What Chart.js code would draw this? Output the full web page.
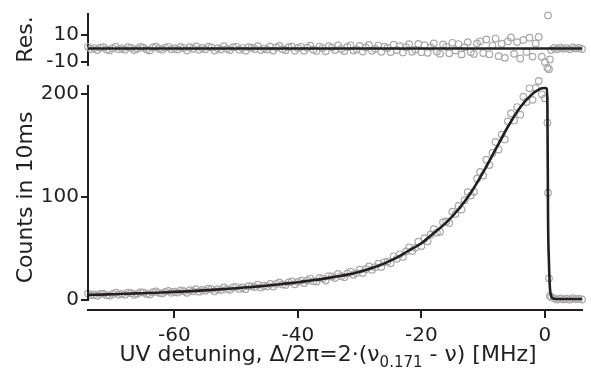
<!DOCTYPE html>
<html>
<head>
<meta charset="utf-8">
<script src="https://cdn.jsdelivr.net/npm/chart.js@4.4.1/dist/chart.umd.min.js"></script>
<style>
  body { margin: 0; background: #fff; width: 591px; height: 379px; position: relative; overflow: hidden; }
  #resBox { position: absolute; left: 0; top: 0; width: 591px; height: 80px; }
  #cntBox { position: absolute; left: 0; top: 70px; width: 591px; height: 309px; }
</style>
</head>
<body>
<div id="resBox"><canvas id="resChart"></canvas></div>
<div id="cntBox"><canvas id="cntChart"></canvas></div>
<script>
// measured points (MHz)
const detuning = [
  -74, -73.5, -73, -72.5, -72, -71.5, -71, -70.5, -70, -69.5, -69, -68.5, -68, -67.5, -67,
  -66.5, -66, -65.5, -65, -64.5, -64, -63.5, -63, -62.5, -62, -61.5, -61, -60.5, -60,
  -59.5, -59, -58.5, -58, -57.5, -57, -56.5, -56, -55.5, -55, -54.5, -54, -53.5, -53, -52.5,
  -52, -51.5, -51, -50.5, -50, -49.5, -49, -48.5, -48, -47.5, -47, -46.5, -46, -45.5, -45,
  -44.5, -44, -43.5, -43, -42.5, -42, -41.5, -41, -40.5, -40,
  -39.5, -39, -38.5, -38, -37.5, -37, -36.5, -36, -35.5, -35, -34.5, -34, -33.5, -33, -32.5,
  -32, -31.5, -31, -30.5, -30, -29.5, -29, -28.5, -28, -27.5, -27, -26.5, -26, -25.5, -25,
  -24.5, -24, -23.5, -23, -22.5, -22, -21.5, -21, -20.5, -20,
  -19.5, -19, -18.5, -18, -17.5, -17, -16.5, -16, -15.5, -15, -14.5, -14, -13.5, -13, -12.5,
  -12, -11.5, -11, -10.5, -10,
  -9.5, -9, -8.5, -8, -7.5, -7, -6.5, -6, -5.5, -5, -4.5, -4, -3.5, -3, -2.5, -2, -1.5, -1,
  -0.5, 0, 0.4, 0.5, 0.65, 0.8,
  1, 1.5, 2, 2.5, 3, 3.5, 4, 4.5, 5, 5.5, 6
];
const counts = [
  6.2, 4.7, 5.4, 4.1, 5.8, 6.2, 4.7, 4.2, 5.8, 7.1, 5.3, 6.0, 5.1, 7.1, 6.6,
  5.1, 6.1, 7.6, 7.2, 5.9, 5.4, 7.6, 8.3, 7.0, 6.4, 7.9, 8.8, 7.1, 8.1,
  7.2, 9.2, 8.6, 7.0, 9.5, 8.5, 10.4, 8.1, 9.7, 8.9, 10.9, 10.6, 8.5, 10.4, 9.7,
  12.2, 10.5, 9.9, 12.1, 12.8, 10.7, 12.2, 10.5, 13.4, 13.2, 12.5, 14.8, 12.2, 13.8, 13.2,
  15.6, 13.1, 15.6, 17.0, 15.1, 14.6, 17.1, 18.0, 15.2, 17.6,
  18.8, 16.4, 18.9, 20.8, 18.3, 17.8, 21.5, 20.8, 18.9, 23.2, 22.8, 21.3, 25.2, 23.1, 22.1,
  25.7, 27.6, 24.6, 26.1, 29.4, 26.2, 29.9, 32.6, 29.4, 31.8, 35.3, 31.9, 36.8, 37.2, 35.6,
  42.4, 39.9, 44.3, 41.6, 47.1, 51.1, 47.4, 50.6, 56.5, 52.3,
  59.9, 56.9, 63.5, 68.6, 65.3, 66.2, 75.4, 76.2, 74.7, 85.6, 83.3, 91.2, 87.7, 96.8, 104.6,
  101.3, 105.0, 117.7, 124.2, 120.7,
  136.0, 130.8, 142.6, 153.2, 145.9, 160.4, 155.7, 173.1, 181.0, 174.1, 187.1, 179.7, 197.2,
  192.0, 205.3, 194.1, 205.6, 212.4,
  199.5, 195.5, 172, 104, 21, 4,
  2.8, 1.6, 0.4, 1.5, 0.6, 1.2, 0.3, 1.7, 0.8, 1.3, 0.5
];
const residuals = [
  1.2, -0.4, 0.3, -1.1, 0.6, 0.9, -0.7, -1.3, 0.2, 1.4, -0.5, 0.1, -0.9, 1.0, 0.4,
  -1.2, -0.3, 1.1, 0.6, -0.8, -1.4, 0.7, 1.3, -0.2, -0.9, 0.5, 1.2, -0.6, 0.2,
  -0.8, 1.1, 0.3, -1.4, 0.9, -0.2, 1.5, -1.0, 0.4, -0.6, 1.3, 0.8, -1.5, 0.2, -0.7,
  1.6, -0.3, -1.1, 0.9, 1.4, -0.9, 0.3, -1.6, 1.0, 0.6, -0.4, 1.7, -1.2, 0.1, -0.8,
  1.3, -1.5, 0.7, 1.8, -0.5, -1.3, 0.9, 1.5, -1.7, 0.4,
  1.2, -1.6, 0.5, 2.0, -0.9, -1.8, 1.4, 0.3, -2.1, 1.7, 0.8, -1.2, 2.2, -0.4, -1.9,
  1.1, 2.3, -1.4, -0.6, 1.9, -2.2, 0.7, 2.5, -1.6, -0.3, 2.1, -2.4, 1.3, 0.4, -2.6,
  2.8, -1.1, 1.6, -2.9, 0.9, 3.1, -2.3, -0.8, 3.3, -2.7,
  2.4, -3.1, 1.0, 3.6, -2.2, -3.8, 2.9, 1.2, -3.5, 4.1, -1.4, 3.2, -4.3, 0.8, 4.6,
  -2.7, -4.0, 3.7, 5.2, -3.3,
  6.5, -4.2, 2.1, 7.2, -5.6, 3.4, -6.8, 5.1, 8.0, -3.9, 4.6, -7.3, 6.2, -2.5, 7.8,
  -5.9, 3.6, 8.4,
  -6, -10, -14, 24, -15, -8,
  -1.2, 0.4, -0.5, 0.6, -0.3, 0.3, -0.6, 0.8, -0.1, 0.4, -0.4
];

// fitted line shape
const fitDetuning = [
  -74, -72, -70, -68, -66, -64, -62, -60, -58, -56, -54, -52, -50, -48, -46, -44, -42, -40,
  -38, -36, -34, -32, -30, -28, -26, -24, -22, -20, -18, -16, -14, -12, -10, -8, -6, -4, -2,
  -1, -0.5, 0, 0.3, 0.4, 0.5, 0.65, 0.8, 1.0, 1.2, 1.5, 2, 4, 6
];
const fitCounts = [
  5.0, 5.2, 5.6, 6.0, 6.4, 6.8, 7.3, 7.9, 8.4, 9.1, 9.8, 10.6, 11.4, 12.4, 13.4, 14.6, 15.9, 17.2,
  18.8, 20.5, 22.5, 24.6, 27.5, 31.0, 35.5, 41.0, 48.0, 55.0, 65.0, 75.0, 88.0, 104.0, 124.0, 146.0, 168.0, 187.0, 200.0,
  204.0, 205.3, 205.6, 205.0, 186, 80, 36, 12, 4, 2, 1.2, 0.9, 0.9, 0.9
];
const resFitDetuning = [-74, 6];
const resFitValues = [0, 0];

const xTicks = [-60, -40, -20, 0];
const countTicks = [0, 100, 200];
const resTicks = [-10, 0, 10, 20];
const resTickLabels = { '-10': '-10', '10': '10' };

const INK = '#231f20';
const GREY = '#a8a8a8';
const TITLE_FONT = { size: 22 };

Chart.defaults.font.family = 'DejaVu Sans';
Chart.defaults.font.size = 20;
Chart.defaults.color = INK;

function pts(xs, ys) {
  return xs.map((x, i) => ({ x: x, y: ys[i] }));
}

function fixWidth(scale) { scale.width = 88; }

const circleStyle = {
  pointStyle: 'circle', pointRadius: 3.3, pointBorderWidth: 1.2,
  pointBorderColor: GREY, pointBackgroundColor: 'rgba(0,0,0,0)',
  showLine: false, clip: false, order: 1
};
const lineStyle = {
  showLine: true, borderColor: INK, borderWidth: 2.6, pointRadius: 0,
  cubicInterpolationMode: 'monotone', clip: false, order: 0
};

// residual panel
new Chart(document.getElementById('resChart'), {
  type: 'scatter',
  data: {
    datasets: [
      Object.assign({ data: pts(detuning, residuals) }, circleStyle),
      Object.assign({ data: pts(resFitDetuning, resFitValues) }, lineStyle)
    ]
  },
  options: {
    responsive: true, maintainAspectRatio: false, animation: false,
    layout: { padding: { left: 0, right: 9, top: 12, bottom: 15 } },
    plugins: { legend: { display: false }, tooltip: { enabled: false } },
    scales: {
      x: { type: 'linear', min: -74, max: 6, display: false },
      y: {
        min: -12, max: 25,
        afterFit: fixWidth,
        afterBuildTicks: s => { s.ticks = resTicks.map(v => ({ value: v })); },
        ticks: { padding: 2, callback: v => resTickLabels[String(v)] || '' },
        grid: { drawOnChartArea: false, tickLength: 7, color: INK, lineWidth: 2 },
        border: { display: true, color: INK, width: 2 },
        title: { display: true, text: 'Res.', font: TITLE_FONT, padding: { top: 13, bottom: 0 } }
      }
    }
  }
});

// axis line that stops at zero, and the x title with subscript
const countsExtras = {
  id: 'countsExtras',
  afterDraw(chart) {
    const ctx = chart.ctx;
    const area = chart.chartArea;
    const y0 = chart.scales.y.getPixelForValue(0);
    ctx.save();
    ctx.strokeStyle = INK;
    ctx.lineWidth = 2;
    ctx.beginPath();
    ctx.moveTo(area.left, area.top);
    ctx.lineTo(area.left, y0 + 1);
    ctx.stroke();

    const parts = [
      { t: 'UV detuning, \u0394/2\u03c0=2\u00b7(\u03bd', size: 22, dy: 0 },
      { t: '0.171', size: 15, dy: 6 },
      { t: ' - \u03bd) [MHz]', size: 22, dy: 0 }
    ];
    let total = 0;
    parts.forEach(p => {
      ctx.font = p.size + 'px "DejaVu Sans"';
      p.w = ctx.measureText(p.t).width;
      total += p.w;
    });
    let x = 328 - total / 2;
    const base = 291;
    ctx.fillStyle = INK;
    ctx.textBaseline = 'alphabetic';
    ctx.textAlign = 'left';
    parts.forEach(p => {
      ctx.font = p.size + 'px "DejaVu Sans"';
      ctx.fillText(p.t, x, base + p.dy);
      x += p.w;
    });
    ctx.restore();
  }
};

// counts panel
new Chart(document.getElementById('cntChart'), {
  type: 'scatter',
  data: {
    datasets: [
      Object.assign({ data: pts(detuning, counts) }, circleStyle),
      Object.assign({ data: pts(fitDetuning, fitCounts) }, lineStyle)
    ]
  },
  options: {
    responsive: true, maintainAspectRatio: false, animation: false,
    layout: { padding: { left: 0, right: 9, top: 15, bottom: 0 } },
    plugins: { legend: { display: false }, tooltip: { enabled: false } },
    scales: {
      x: {
        type: 'linear', min: -74, max: 6,
        afterFit: s => { s.height = 69; },
        afterBuildTicks: s => { s.ticks = xTicks.map(v => ({ value: v })); },
        ticks: { padding: 6, maxRotation: 0 },
        grid: { drawOnChartArea: false, tickLength: 8, color: INK, lineWidth: 2 },
        border: { display: true, color: INK, width: 2 }
      },
      y: {
        min: -9.7, max: 208.5,
        afterFit: fixWidth,
        afterBuildTicks: s => { s.ticks = countTicks.map(v => ({ value: v })); },
        ticks: { padding: 2 },
        grid: { drawOnChartArea: false, tickLength: 7, color: INK, lineWidth: 2 },
        border: { display: false },
        title: { display: true, text: 'Counts in 10ms', font: TITLE_FONT, padding: { top: 13, bottom: 0 } }
      }
    }
  },
  plugins: [countsExtras]
});
</script>
</body>
</html>
